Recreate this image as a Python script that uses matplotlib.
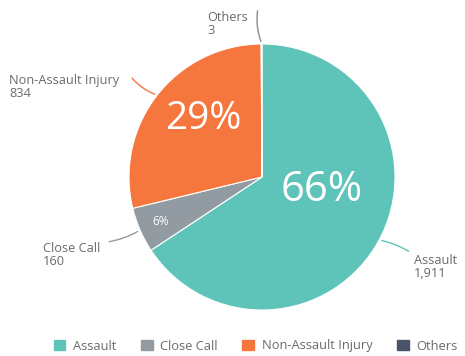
import numpy as np
import matplotlib.pyplot as plt

plt.rcParams['font.family'] = ['Open Sans', 'DejaVu Sans']

# 事件类型数据
categories = ['Assault', 'Close Call', 'Non-Assault Injury', 'Others']
counts = [1911, 160, 834, 3]
colors = ['#5ec3b8', '#939ba2', '#f5773e', '#49536a']
text_color = '#6b6b6b'

fig = plt.figure(figsize=(4.65, 3.56), dpi=100)
ax = fig.add_axes([0.0, 0.0, 1.0, 1.0])

wedges, _ = ax.pie(counts, colors=colors, startangle=90, counterclock=False,
                   radius=1.0, wedgeprops=dict(edgecolor='white', linewidth=0.8))
ax.set_xlim(-262 / 133, (465 - 262) / 133)
ax.set_ylim(-(356 - 177) / 133, 177 / 133)
ax.set_aspect('equal')
ax.axis('off')

total = sum(counts)
mids = [np.deg2rad((w.theta1 + w.theta2) / 2) for w in wedges]

# 扇区内百分比
pct_style = {0: (0.46, 30, 16), 1: (0.83, 8.5, 0), 2: (0.62, 28, -7)}
for i, (r, size, shift) in pct_style.items():
    ang = mids[i] + np.deg2rad(shift)
    ax.text(r * np.cos(ang), r * np.sin(ang), f'{counts[i] / total * 100:.0f}%',
            ha='center', va='center', color='white', fontsize=size)

# 外部标签与引线
label_pos = {
    0: (1.14, -0.68, (1.12, -0.57), 0.1),
    1: (-1.65, -0.59, (-1.17, -0.49), 0.1),
    2: (-1.90, 0.68, (-0.99, 0.76), 0.15),
    3: (-0.41, 1.15, (-0.03, 1.27), 0.15),
}
for i, (tx, ty, end, rad) in label_pos.items():
    ang = mids[i]
    px, py = np.cos(ang), np.sin(ang)
    if i == 3:
        px, py = 0.0, 1.0
    ax.text(tx, ty, f'{categories[i]}\n{counts[i]:,}', ha='left', va='center',
            color=text_color, fontsize=9.2, linespacing=1.0)
    ax.annotate('', xy=(px, py), xytext=end,
                arrowprops=dict(arrowstyle='-', color=colors[i] if i != 3 else '#8a8f96',
                                lw=1.0, connectionstyle=f'arc3,rad={rad}'))

handles = [plt.Rectangle((0, 0), 1, 1, color=c) for c in colors]
fig.legend(handles, categories, loc='center', ncol=4, frameon=False,
           bbox_to_anchor=(0.55, 1 - 346 / 356), fontsize=9.3, handlelength=0.9,
           handleheight=0.9, handletextpad=0.6, columnspacing=1.9,
           labelcolor=text_color)

fig.savefig('out.png', dpi=100)
